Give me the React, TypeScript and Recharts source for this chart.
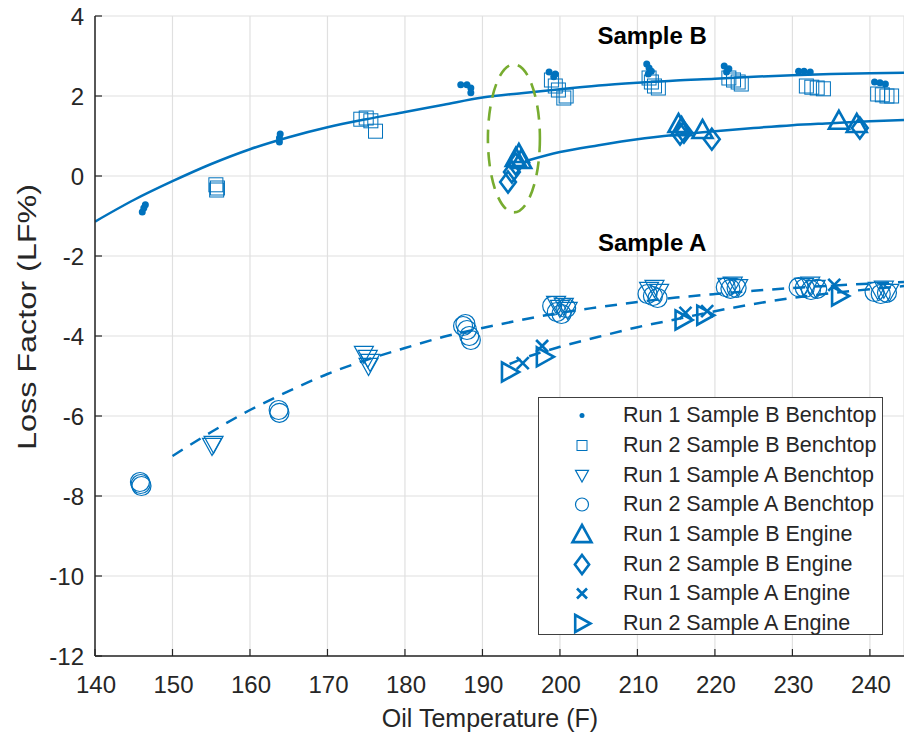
import React from "react";
import {
  ComposedChart,
  Scatter,
  Line,
  XAxis,
  YAxis,
  CartesianGrid,
  ReferenceDot,
} from "recharts";

const BLUE = "#0072BD";
const GREEN = "#77AC30";
const AXIS = "#262626";
const FONT = "'Liberation Sans', Arial, Helvetica, sans-serif";

const xTicks = [140, 150, 160, 170, 180, 190, 200, 210, 220, 230, 240];
const yTicks = [-12, -10, -8, -6, -4, -2, 0, 2, 4];

// measured points (oil temp F, loss factor %)
const run1BBench = [
  { t: 146.1, lf: -0.9 }, { t: 146.3, lf: -0.8 }, { t: 146.5, lf: -0.72 },
  { t: 163.8, lf: 0.85 }, { t: 163.8, lf: 0.95 }, { t: 163.9, lf: 1.05 },
  { t: 187.2, lf: 2.28 }, { t: 188.0, lf: 2.28 }, { t: 188.5, lf: 2.2 }, { t: 188.5, lf: 2.08 },
  { t: 198.6, lf: 2.6 }, { t: 199.4, lf: 2.55 }, { t: 199.2, lf: 2.48 },
  { t: 211.2, lf: 2.8 }, { t: 211.5, lf: 2.7 }, { t: 211.8, lf: 2.62 }, { t: 211.4, lf: 2.55 },
  { t: 221.2, lf: 2.75 }, { t: 221.8, lf: 2.68 }, { t: 221.5, lf: 2.6 },
  { t: 230.8, lf: 2.62 }, { t: 231.5, lf: 2.62 }, { t: 232.3, lf: 2.6 },
  { t: 240.6, lf: 2.35 }, { t: 241.3, lf: 2.33 }, { t: 242.0, lf: 2.3 },
];
const run2BBench = [
  { t: 155.6, lf: -0.22 }, { t: 155.8, lf: -0.3 }, { t: 155.7, lf: -0.35 },
  { t: 174.3, lf: 1.42 }, { t: 175.0, lf: 1.45 }, { t: 175.6, lf: 1.38 }, { t: 176.2, lf: 1.12 },
  { t: 198.9, lf: 2.4 }, { t: 199.4, lf: 2.25 }, { t: 199.8, lf: 2.15 }, { t: 200.5, lf: 1.95 }, { t: 200.8, lf: 2.0 },
  { t: 211.5, lf: 2.45 }, { t: 211.8, lf: 2.35 }, { t: 212.2, lf: 2.25 }, { t: 212.7, lf: 2.2 },
  { t: 221.8, lf: 2.45 }, { t: 222.4, lf: 2.4 }, { t: 223.0, lf: 2.35 }, { t: 223.4, lf: 2.3 },
  { t: 231.8, lf: 2.25 }, { t: 232.5, lf: 2.22 }, { t: 233.2, lf: 2.2 }, { t: 234.0, lf: 2.18 },
  { t: 241.0, lf: 2.05 }, { t: 241.6, lf: 2.03 }, { t: 242.2, lf: 2.0 }, { t: 242.8, lf: 2.0 },
];
const run1ABench = [
  { t: 155.1, lf: -6.75 }, { t: 155.3, lf: -6.7 },
  { t: 174.7, lf: -4.45 }, { t: 175.2, lf: -4.55 }, { t: 175.5, lf: -4.65 }, { t: 175.3, lf: -4.75 },
  { t: 199.5, lf: -3.2 }, { t: 200.0, lf: -3.3 }, { t: 200.5, lf: -3.25 }, { t: 201.0, lf: -3.35 },
  { t: 211.5, lf: -2.85 }, { t: 212.2, lf: -2.8 }, { t: 212.8, lf: -2.9 },
  { t: 221.6, lf: -2.75 }, { t: 222.3, lf: -2.72 }, { t: 223.0, lf: -2.78 },
  { t: 231.5, lf: -2.75 }, { t: 232.3, lf: -2.72 }, { t: 233.0, lf: -2.8 },
  { t: 241.0, lf: -2.85 }, { t: 241.8, lf: -2.82 }, { t: 242.5, lf: -2.9 },
];
const run2ABench = [
  { t: 145.8, lf: -7.65 }, { t: 146.0, lf: -7.75 }, { t: 145.9, lf: -7.7 },
  { t: 163.7, lf: -5.85 }, { t: 163.8, lf: -5.92 },
  { t: 187.5, lf: -3.75 }, { t: 188.0, lf: -3.85 }, { t: 188.3, lf: -4.0 }, { t: 188.5, lf: -4.1 }, { t: 187.8, lf: -3.7 },
  { t: 199.0, lf: -3.25 }, { t: 199.6, lf: -3.4 }, { t: 200.2, lf: -3.45 }, { t: 200.8, lf: -3.3 },
  { t: 211.3, lf: -2.95 }, { t: 212.0, lf: -3.0 }, { t: 212.6, lf: -3.05 },
  { t: 221.4, lf: -2.78 }, { t: 222.0, lf: -2.82 }, { t: 222.8, lf: -2.8 },
  { t: 230.8, lf: -2.78 }, { t: 231.6, lf: -2.8 }, { t: 232.4, lf: -2.85 }, { t: 233.2, lf: -2.82 },
  { t: 240.6, lf: -2.9 }, { t: 241.4, lf: -2.95 }, { t: 242.2, lf: -2.92 },
];
const run1BEngine = [
  { t: 194.3, lf: 0.45 }, { t: 194.7, lf: 0.55 }, { t: 195.0, lf: 0.4 },
  { t: 215.3, lf: 1.3 }, { t: 215.7, lf: 1.22 }, { t: 218.4, lf: 1.15 },
  { t: 236.0, lf: 1.38 }, { t: 238.3, lf: 1.3 },
];
const run2BEngine = [
  { t: 193.3, lf: -0.15 }, { t: 193.8, lf: 0.1 }, { t: 194.3, lf: 0.3 },
  { t: 215.5, lf: 1.05 }, { t: 216.0, lf: 1.1 }, { t: 219.6, lf: 0.92 },
  { t: 238.7, lf: 1.2 },
];
const run1AEngine = [
  { t: 195.2, lf: -4.68 }, { t: 197.7, lf: -4.25 },
  { t: 216.2, lf: -3.42 }, { t: 219.0, lf: -3.38 },
  { t: 235.4, lf: -2.72 },
];
const run2AEngine = [
  { t: 193.5, lf: -4.9 }, { t: 198.0, lf: -4.52 },
  { t: 215.9, lf: -3.6 }, { t: 218.7, lf: -3.48 },
  { t: 236.1, lf: -3.0 },
];

// fitted trend curves
const fitBBench = [
  { t: 140, lf: -1.14 }, { t: 145, lf: -0.6 }, { t: 150, lf: -0.13 }, { t: 155, lf: 0.3 },
  { t: 160, lf: 0.67 }, { t: 165, lf: 0.97 }, { t: 170, lf: 1.22 }, { t: 175, lf: 1.42 },
  { t: 180, lf: 1.6 }, { t: 185, lf: 1.78 }, { t: 190, lf: 1.96 }, { t: 195, lf: 2.07 },
  { t: 200, lf: 2.17 }, { t: 205, lf: 2.26 }, { t: 210, lf: 2.33 }, { t: 215, lf: 2.39 },
  { t: 220, lf: 2.43 }, { t: 225, lf: 2.48 }, { t: 230, lf: 2.52 }, { t: 235, lf: 2.55 },
  { t: 240, lf: 2.57 }, { t: 244.4, lf: 2.58 },
];
const fitBEngine = [
  { t: 195.5, lf: 0.37 }, { t: 200, lf: 0.6 }, { t: 205, lf: 0.77 }, { t: 210, lf: 0.92 },
  { t: 215, lf: 1.03 }, { t: 220, lf: 1.12 }, { t: 225, lf: 1.2 }, { t: 230, lf: 1.27 },
  { t: 235, lf: 1.32 }, { t: 240, lf: 1.37 }, { t: 244.4, lf: 1.4 },
];
const fitABench = [
  { t: 150, lf: -7.0 }, { t: 155, lf: -6.4 }, { t: 160, lf: -5.85 }, { t: 165, lf: -5.38 },
  { t: 170, lf: -4.95 }, { t: 175, lf: -4.6 }, { t: 180, lf: -4.3 }, { t: 185, lf: -4.02 },
  { t: 190, lf: -3.8 }, { t: 195, lf: -3.6 }, { t: 200, lf: -3.42 }, { t: 205, lf: -3.28 },
  { t: 210, lf: -3.15 }, { t: 215, lf: -3.04 }, { t: 220, lf: -2.95 }, { t: 225, lf: -2.87 },
  { t: 230, lf: -2.8 }, { t: 235, lf: -2.74 }, { t: 240, lf: -2.69 }, { t: 244.4, lf: -2.65 },
];
const fitAEngine = [
  { t: 193.5, lf: -4.7 }, { t: 195, lf: -4.58 }, { t: 200, lf: -4.27 }, { t: 205, lf: -4.02 },
  { t: 210, lf: -3.78 }, { t: 215, lf: -3.58 }, { t: 220, lf: -3.38 }, { t: 225, lf: -3.2 },
  { t: 230, lf: -3.05 }, { t: 235, lf: -2.93 }, { t: 240, lf: -2.83 }, { t: 244.4, lf: -2.75 },
];

const seriesNames = [
  "Run 1 Sample B Benchtop",
  "Run 2 Sample B Benchtop",
  "Run 1 Sample A Benchtop",
  "Run 2 Sample A Benchtop",
  "Run 1 Sample B Engine",
  "Run 2 Sample B Engine",
  "Run 1 Sample A Engine",
  "Run 2 Sample A Engine",
];

const series = [
  { name: seriesNames[0], data: run1BBench, kind: "dot", size: 7, sw: 1, legendSize: 5 },
  { name: seriesNames[1], data: run2BBench, kind: "square", size: 14, sw: 1, legendSize: 10 },
  { name: seriesNames[2], data: run1ABench, kind: "down", size: 19, sw: 1.2, legendSize: 13 },
  { name: seriesNames[3], data: run2ABench, kind: "circle", size: 19, sw: 1.2, legendSize: 13 },
  { name: seriesNames[4], data: run1BEngine, kind: "up", size: 20, sw: 2.6, legendSize: 19 },
  { name: seriesNames[5], data: run2BEngine, kind: "diamond", size: 21, sw: 2.6, legendSize: 19 },
  { name: seriesNames[6], data: run1AEngine, kind: "x", size: 12, sw: 2.6, legendSize: 10 },
  { name: seriesNames[7], data: run2AEngine, kind: "right", size: 19, sw: 2.6, legendSize: 17 },
];

const Marker = ({ kind, cx, cy, s, sw }: any) => {
  const h = s / 2;
  const common = { fill: "none", stroke: BLUE, strokeWidth: sw, strokeLinejoin: "miter" as const };
  switch (kind) {
    case "dot":
      return <circle cx={cx} cy={cy} r={h} fill={BLUE} />;
    case "square":
      return <rect x={cx - h} y={cy - h} width={s} height={s} {...common} />;
    case "circle":
      return <circle cx={cx} cy={cy} r={h} {...common} />;
    case "down":
      return <polygon points={`${cx - h},${cy - h * 0.8} ${cx + h},${cy - h * 0.8} ${cx},${cy + h}`} {...common} />;
    case "up":
      return <polygon points={`${cx},${cy - h} ${cx + h},${cy + h * 0.8} ${cx - h},${cy + h * 0.8}`} {...common} />;
    case "diamond":
      return <polygon points={`${cx},${cy - h} ${cx + h * 0.75},${cy} ${cx},${cy + h} ${cx - h * 0.75},${cy}`} {...common} />;
    case "right":
      return <polygon points={`${cx - h * 0.8},${cy - h} ${cx + h},${cy} ${cx - h * 0.8},${cy + h}`} {...common} />;
    case "x":
      return (
        <g stroke={BLUE} strokeWidth={sw}>
          <line x1={cx - h} y1={cy - h} x2={cx + h} y2={cy + h} />
          <line x1={cx - h} y1={cy + h} x2={cx + h} y2={cy - h} />
        </g>
      );
    default:
      return null;
  }
};

const YTick = ({ x, y, payload }: any) => (
  <g>
    <line x1={x} x2={x + 7} y1={y} y2={y} stroke={AXIS} strokeWidth={1.2} />
    <text x={x - 11} y={y} dy="0.36em" textAnchor="end" fontSize={24} fill={AXIS} fontFamily={FONT}>
      {payload.value}
    </text>
  </g>
);

const XTick = ({ x, y, payload }: any) => (
  <g>
    <line x1={x} x2={x} y1={y} y2={y - 7} stroke={AXIS} strokeWidth={1.2} />
    <text x={x + 1} y={y + 37} textAnchor="middle" fontSize={24} fill={AXIS} fontFamily={FONT}>
      {payload.value}
    </text>
  </g>
);

const XTitle = () => (
  <text x={490} y={727} textAnchor="middle" fontSize={25} fill={AXIS} fontFamily={FONT}>
    Oil Temperature (F)
  </text>
);

const YTitle = () => (
  <text
    x={27}
    y={317}
    transform="rotate(-90, 27, 317)"
    textAnchor="middle"
    dominantBaseline="central"
    fontSize={26}
    textLength={266}
    lengthAdjust="spacingAndGlyphs"
    fill={AXIS}
    fontFamily={FONT}
  >
    Loss Factor (LF%)
  </text>
);

const Note = (text: string) => (p: any) => (
  <text x={p.cx} y={p.cy} dy="0.36em" textAnchor="middle" fontSize={24} fontWeight="bold" fill="#000" fontFamily={FONT}>
    {text}
  </text>
);

const Legend = () => (
  <div
    style={{
      position: "absolute",
      left: 538,
      top: 397,
      width: 345,
      height: 238,
      border: "1.5px solid #404040",
      background: "#fff",
      boxSizing: "border-box",
      paddingTop: 3,
      fontFamily: FONT,
      fontSize: 21.5,
      color: AXIS,
    }}
  >
    {series.map((s) => (
      <div key={s.name} style={{ height: 29.7, display: "flex", alignItems: "center" }}>
        <svg width={84} height={29} style={{ flex: "none" }}>
          <Marker kind={s.kind} cx={43} cy={14.5} s={s.legendSize} sw={s.sw} />
        </svg>
        <span style={{ whiteSpace: "nowrap" }}>{s.name}</span>
      </div>
    ))}
  </div>
);

export default function App() {
  return (
    <div style={{ position: "absolute", left: 0, top: 0, width: 904, height: 736, background: "#fff", overflow: "hidden" }}>
      <ComposedChart width={904} height={736} margin={{ top: 16, right: 0, bottom: 0, left: 0 }}>
        <CartesianGrid stroke="#e0e0e0" strokeWidth={1.2} />
        <XAxis
          type="number"
          dataKey="t"
          domain={[140, 244.4]}
          allowDataOverflow
          ticks={xTicks}
          interval={0}
          height={80}
          tickSize={0}
          tickMargin={0}
          tickLine={false}
          axisLine={{ stroke: AXIS, strokeWidth: 1.5 }}
          tick={<XTick />}
          label={<XTitle />}
        />
        <YAxis
          type="number"
          dataKey="lf"
          domain={[-12, 4]}
          allowDataOverflow
          ticks={yTicks}
          interval={0}
          width={95}
          tickSize={0}
          tickMargin={0}
          tickLine={false}
          axisLine={{ stroke: AXIS, strokeWidth: 1.5 }}
          tick={<YTick />}
          label={<YTitle />}
        />
        <Line data={fitBBench} dataKey="lf" type="monotone" stroke={BLUE} strokeWidth={2.5} dot={false} activeDot={false} isAnimationActive={false} />
        <Line data={fitBEngine} dataKey="lf" type="monotone" stroke={BLUE} strokeWidth={2.5} dot={false} activeDot={false} isAnimationActive={false} />
        <Line data={fitABench} dataKey="lf" type="monotone" stroke={BLUE} strokeWidth={2.5} strokeDasharray="12 9" dot={false} activeDot={false} isAnimationActive={false} />
        <Line data={fitAEngine} dataKey="lf" type="monotone" stroke={BLUE} strokeWidth={2.5} strokeDasharray="12 9" dot={false} activeDot={false} isAnimationActive={false} />
        {series.map((s) => (
          <Scatter
            key={s.name}
            name={s.name}
            data={s.data}
            isAnimationActive={false}
            shape={(p: any) => <Marker kind={s.kind} cx={p.cx} cy={p.cy} s={s.size} sw={s.sw} />}
          />
        ))}
        <ReferenceDot
          x={194.06}
          y={0.94}
          r={0}
          shape={(p: any) => (
            <ellipse cx={p.cx} cy={p.cy} rx={26} ry={74} fill="none" stroke={GREEN} strokeWidth={2.6} strokeDasharray="14 9" />
          )}
        />
        <ReferenceDot x={211.9} y={3.52} r={0} shape={Note("Sample B")} />
        <ReferenceDot x={211.9} y={-1.66} r={0} shape={Note("Sample A")} />
      </ComposedChart>
      <Legend />
    </div>
  );
}
